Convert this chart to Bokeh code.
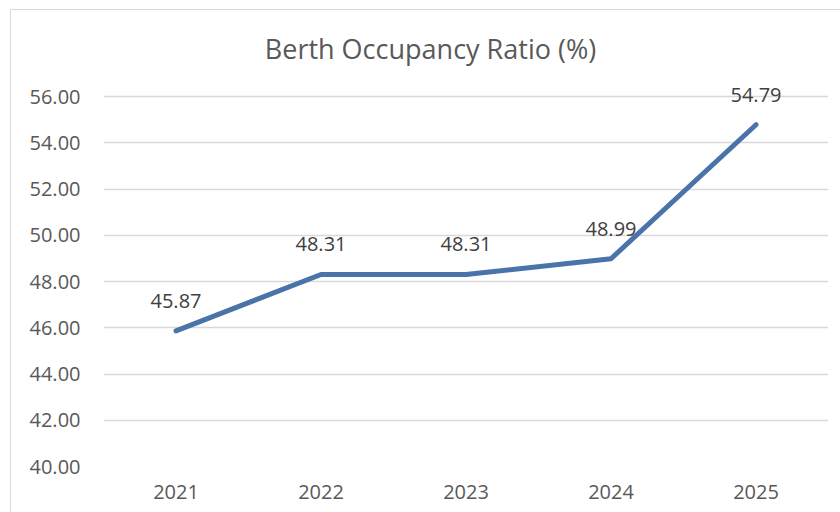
from bokeh.plotting import figure
from bokeh.models import ColumnDataSource, Label, LabelSet, FixedTicker, NumeralTickFormatter
from bokeh.core.properties import value
from bokeh.embed import file_html
from bokeh.resources import INLINE

years = ["2021", "2022", "2023", "2024", "2025"]
ratio = [45.87, 48.31, 48.31, 48.99, 54.79]
labels = ["45.87", "48.31", "48.31", "48.99", "54.79"]
y_ticks = [40, 42, 44, 46, 48, 50, 52, 54, 56]
title_text = "Berth Occupancy Ratio (%)"

FONT = "Open Sans"
src = ColumnDataSource(dict(x=years, y=ratio, t=labels))

# frame spans page y 20..465; 40..56 occupies 96..465, headroom above 56 holds title/labels
p = figure(x_range=years, y_range=(40, 59.3), width=830, height=503,
           output_backend="svg", toolbar_location=None, title=None,
           min_border_left=92, min_border_right=13, min_border_top=10,
           min_border_bottom=47)
p.margin = (9, 0, 0, 10)
p.styles = {"border-top": "1px solid #d9d9d9", "border-left": "1px solid #d9d9d9",
            "box-sizing": "border-box"}
p.outline_line_color = None
p.background_fill_color = "white"
p.border_fill_color = "white"

p.add_layout(Label(x=327, y=418, x_units="screen", y_units="screen",
                   text=title_text, text_align="center", text_baseline="alphabetic",
                   text_font=FONT, text_font_size="27px",
                   text_color="#595959"))

p.line("x", "y", source=src, line_color="#4a73aa", line_width=5,
       line_join="round", line_cap="round")

p.add_layout(LabelSet(x="x", y="y", text="t", source=src, y_offset=23,
                      text_align="center", text_baseline="alphabetic",
                      text_font=value(FONT), text_font_size="20px",
                      text_color="#404040"))

p.yaxis.ticker = FixedTicker(ticks=y_ticks)
p.yaxis.formatter = NumeralTickFormatter(format="0.00")
for ax in (p.xaxis, p.yaxis):
    ax.axis_line_color = None
    ax.major_tick_line_color = None
    ax.minor_tick_line_color = None
    ax.major_label_text_font = FONT
    ax.major_label_text_font_size = "20px"
    ax.major_label_text_color = "#595959"
p.yaxis.major_label_standoff = 17
p.xaxis.major_label_standoff = 12

p.xgrid.grid_line_color = None
p.ygrid.grid_line_color = "#d9d9d9"
p.ygrid.grid_line_width = 1.5
p.ygrid.ticker = FixedTicker(ticks=y_ticks)

open("out.html", "w").write(file_html(p, INLINE))
